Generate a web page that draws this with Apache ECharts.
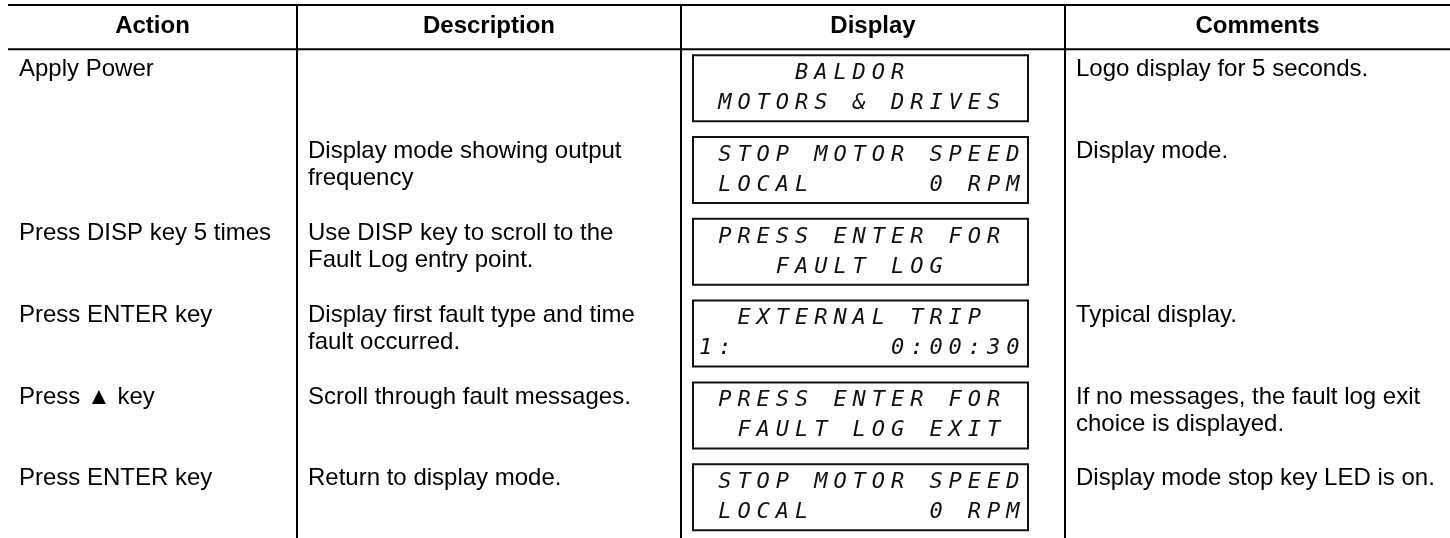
<!DOCTYPE html>
<html>
<head>
<meta charset="utf-8">
<script src="https://cdn.jsdelivr.net/npm/echarts@6/dist/echarts.min.js"></script>
<style>
html,body{margin:0;padding:0;background:#fff;}
#chart{width:1450px;height:538px;}
</style>
</head>
<body>
<div id="chart"></div>
<script>
// ---- data ----
const headers = ['Action', 'Description', 'Display', 'Comments'];
const actions = ['Apply Power', '', 'Press DISP key 5 times', 'Press ENTER key', 'Press \u25B2 key', 'Press ENTER key'];
const descriptions = [
  '',
  'Display mode showing output\nfrequency',
  'Use DISP key to scroll to the\nFault Log entry point.',
  'Display first fault type and time\nfault occurred.',
  'Scroll through fault messages.',
  'Return to display mode.'
];
const displayLine1 = ['     BALDOR      ', ' STOP MOTOR SPEED', ' PRESS ENTER FOR ', '  EXTERNAL TRIP  ', ' PRESS ENTER FOR ', ' STOP MOTOR SPEED'];
const displayLine2 = [' MOTORS & DRIVES ', ' LOCAL      0 RPM', '    FAULT LOG    ', '1:        0:00:30', '  FAULT LOG EXIT ', ' LOCAL      0 RPM'];
const comments = [
  'Logo display for 5 seconds.',
  'Display mode.',
  '',
  'Typical display.',
  'If no messages, the fault log exit\nchoice is displayed.',
  'Display mode stop key LED is on.'
];

// ---- layout ----
const COL_EDGES = [8, 297, 681, 1065, 1450];
const HEADER_ROWS = 0.54;   // header height in row units
const TEXT_PAD = [11, 11, 0, 11];
const FONT = '"Liberation Sans", Arial, Helvetica, sans-serif';
const LCD_FONT = '"DejaVu Sans Mono", monospace';

const rowIdx = actions.map((_, i) => [COL_EDGES[0], i]);

function frameItem(params, api) {
  const tl = api.coord([COL_EDGES[0], -HEADER_ROWS]);
  const hb = api.coord([COL_EDGES[0], 0]);
  const right = api.coord([COL_EDGES[4], 0])[0];
  const bottom = api.coord([0, 6])[1];
  const ls = { stroke: '#000', lineWidth: 2 };
  const children = [
    { type: 'line', shape: { x1: tl[0], y1: tl[1], x2: right, y2: tl[1] }, style: ls },
    { type: 'line', shape: { x1: hb[0], y1: hb[1], x2: right, y2: hb[1] }, style: ls }
  ];
  for (let c = 1; c < 4; c++) {
    const x = api.coord([COL_EDGES[c], 0])[0];
    children.push({ type: 'line', shape: { x1: x, y1: tl[1] - 1, x2: x, y2: bottom + 10 }, style: ls });
  }
  return { type: 'group', children };
}

function headerItem(params, api) {
  const c = params.dataIndex;
  const x0 = api.coord([COL_EDGES[c], 0])[0];
  const x1 = api.coord([COL_EDGES[c + 1], 0])[0];
  const yTop = api.coord([0, -HEADER_ROWS])[1];
  const yBot = api.coord([0, 0])[1];
  return {
    type: 'text',
    x: (x0 + x1) / 2,
    y: (yTop + yBot) / 2 - 1,
    style: {
      text: headers[c], fill: '#000', fontSize: 24, fontWeight: 'bold', fontFamily: FONT,
      align: 'center', verticalAlign: 'middle'
    }
  };
}

function rowItem(params, api) {
  const i = params.dataIndex;
  const top = api.coord([0, i])[1];
  const children = [];
  const texts = [actions[i], descriptions[i], null, comments[i]];
  for (let c = 0; c < 4; c++) {
    if (!texts[c]) continue;
    const x = api.coord([COL_EDGES[c], i])[0] + TEXT_PAD[c];
    children.push({
      type: 'text', x: x, y: top + 7,
      style: { text: texts[c], fill: '#000', fontSize: 24, fontFamily: FONT,
        align: 'left', verticalAlign: 'top', lineHeight: 27 }
    });
  }
  // LCD display box
  const bx = api.coord([COL_EDGES[2], i])[0] + 12;
  const by = top + 6;
  const bw = 335, bh = 66;
  children.push({ type: 'rect', shape: { x: bx, y: by, width: bw, height: bh },
    style: { fill: '#fff', stroke: '#111', lineWidth: 2 } });
  const pitch = 19.2;
  [displayLine1[i], displayLine2[i]].forEach((line, L) => {
    for (let k = 0; k < line.length; k++) {
      const ch = line[k];
      if (ch === ' ') continue;
      children.push({
        type: 'text', x: bx + 6 + k * pitch, y: by + (L ? 48 : 18),
        style: { text: ch, fill: '#111', fontSize: 22, fontFamily: LCD_FONT, fontStyle: 'italic',
          align: 'left', verticalAlign: 'middle' }
      });
    }
  });
  return { type: 'group', children };
}

const chart = echarts.init(document.getElementById('chart'), null, { renderer: 'canvas' });
chart.setOption({
  animation: false,
  backgroundColor: '#fff',
  grid: { left: 0, right: 0, top: 5, bottom: 0 },
  xAxis: { type: 'value', min: 0, max: 1450, show: false },
  yAxis: { type: 'value', min: -HEADER_ROWS, max: 5.975, inverse: true, show: false },
  series: [
    { type: 'custom', name: 'rows', renderItem: rowItem, data: rowIdx, clip: false, silent: true },
    { type: 'custom', name: 'header', renderItem: headerItem, data: headers.map((h, c) => [COL_EDGES[c], 0]), clip: false, silent: true },
    { type: 'custom', name: 'frame', renderItem: frameItem, data: [[COL_EDGES[0], 0]], clip: false, silent: true }
  ]
});
</script>
</body>
</html>
